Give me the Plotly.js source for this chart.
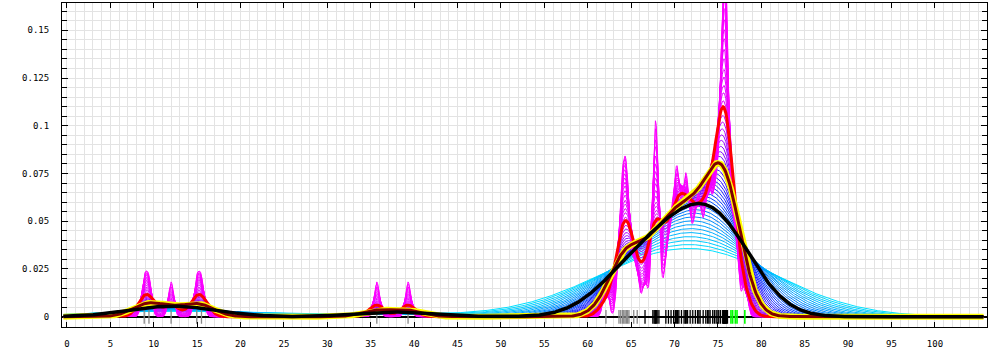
<!DOCTYPE html>
<html><head><meta charset="utf-8">
<script src="https://cdn.plot.ly/plotly-3.0.1.min.js"></script>
<style>html,body{margin:0;padding:0;background:#fff}#chart{width:1000px;height:350px}</style>
</head><body><div id="chart"></div>
<script>
// ---- data ----
const rugGray = [8.9, 9.45, 12.0, 14.95, 15.5, 35.7, 39.3,
  62.1, 63.6, 63.8, 64.0, 64.15, 64.3, 64.45, 64.6, 64.75, 65.3, 65.7];
const rugBlack = [66.6, 67.5, 67.65, 67.75, 67.8, 67.9, 68.0, 68.2,
  69.0, 69.3, 69.6, 69.9, 70.1, 70.25, 70.35, 70.5, 70.8, 71.1, 71.25, 71.35, 71.5,
  71.8, 72.1, 72.4, 72.65, 72.8, 72.95, 73.3, 73.6, 73.8, 73.95, 74.1, 74.4,
  74.6, 74.8, 75.0, 75.1, 75.3,
  75.55, 75.6, 75.65, 75.7, 75.7, 75.75, 75.8, 75.85, 75.9, 75.95, 76.0, 76.1];
const rugGreen = [76.5, 76.7, 77.0, 77.2, 78.1];

// bandwidths of the family of density curves (magenta -> cyan)
const bandwidths = [0.30, 0.32, 0.35, 0.37, 0.40, 0.43, 0.46, 0.49, 0.52, 0.56,
  0.60, 0.65, 0.69, 0.74, 0.79, 0.85, 0.91, 0.98, 1.05, 1.13,
  1.21, 1.29, 1.39, 1.49, 1.59, 1.71, 1.83, 1.96, 2.10, 2.26,
  2.42, 2.59, 2.78, 2.98, 3.20, 3.43, 3.67, 3.94, 4.22, 4.53,
  4.85, 5.20, 5.58, 5.98, 6.41, 6.87, 7.37, 7.90, 8.47, 9.08];
const bwRed = 0.9;
const bwMaroon = 1.75;
const bwBlack = 4.0;

const xTickVals = [0,5,10,15,20,25,30,35,40,45,50,55,60,65,70,75,80,85,90,95,100];
const xTickText = ['0','5','10','15','20','25','30','35','40','45','50','55','60','65','70','75','80','85','90','95','100'];
const yTickVals = [0, 0.025, 0.05, 0.075, 0.1, 0.125, 0.15];
const yTickText = ['0','0.025','0.05','0.075','0.1','0.125','0.15'];

// ---- evaluation grid & styles ----
const X_FROM = -0.4, X_TO = 105.6, X_STEP = 0.1;
const RUG_LO = -0.0037, RUG_HI = 0.0035;
const colorStops = [
  [0.00, [255, 0, 255]],
  [0.30, [225, 0, 255]],
  [0.45, [140, 0, 255]],
  [0.60, [40, 20, 255]],
  [0.72, [0, 70, 255]],
  [0.85, [0, 150, 255]],
  [1.00, [0, 225, 255]]
];

const samples = rugGray.concat(rugBlack, rugGreen);
const gridX = [];
for (let i = 0; X_FROM + i * X_STEP <= X_TO + 1e-9; i++) gridX.push(+(X_FROM + i * X_STEP).toFixed(3));

function kde(h) {
  const n = samples.length, c = 1 / (n * h * Math.sqrt(2 * Math.PI));
  return gridX.map(x => {
    let s = 0;
    for (const p of samples) { const d = (x - p) / h; s += Math.exp(-0.5 * d * d); }
    return s * c;
  });
}
function colorAt(f) {
  for (let i = 1; i < colorStops.length; i++) {
    if (f <= colorStops[i][0]) {
      const [f0, c0] = colorStops[i - 1], [f1, c1] = colorStops[i];
      const t = (f - f0) / (f1 - f0);
      const c = c0.map((v, k) => Math.round(v + (c1[k] - v) * t));
      return `rgb(${c[0]},${c[1]},${c[2]})`;
    }
  }
  return 'rgb(0,225,255)';
}

const traces = [];
const lmin = Math.log(bandwidths[0]), lmax = Math.log(bandwidths[bandwidths.length - 1]);
for (let i = bandwidths.length - 1; i >= 0; i--) {
  const h = bandwidths[i];
  const f = (Math.log(h) - lmin) / (lmax - lmin);
  traces.push({x: gridX, y: kde(h), type: 'scatter', mode: 'lines',
    line: {color: colorAt(f), width: 1}, hoverinfo: 'skip', showlegend: false});
}
function rugTrace(pts, color, w) {
  const x = [], y = [];
  pts.forEach(p => { x.push(p, p, null); y.push(RUG_LO, RUG_HI, null); });
  return {x, y, type: 'scatter', mode: 'lines', line: {color, width: w}, hoverinfo: 'skip', showlegend: false};
}
traces.push(rugTrace(rugGray, '#888888', 1.3));
traces.push(rugTrace(rugBlack, '#000000', 1.3));
traces.push(rugTrace(rugGreen, '#00ff00', 1.6));
traces.push({x: gridX, y: kde(bwRed), type: 'scatter', mode: 'lines', line: {color: '#ff0000', width: 3}, hoverinfo: 'skip', showlegend: false});
const yM = kde(bwMaroon);
traces.push({x: gridX, y: yM, type: 'scatter', mode: 'lines', line: {color: '#ffff00', width: 6}, hoverinfo: 'skip', showlegend: false});
traces.push({x: gridX, y: yM, type: 'scatter', mode: 'lines', line: {color: '#800000', width: 3}, hoverinfo: 'skip', showlegend: false});
traces.push({x: gridX, y: kde(bwBlack), type: 'scatter', mode: 'lines', line: {color: '#000000', width: 3.5}, hoverinfo: 'skip', showlegend: false});

const tickFont = {family: 'DejaVu Sans Mono, monospace', size: 9, color: '#000'};
const layout = {
  width: 1000, height: 350,
  margin: {l: 62, r: 13, t: 3, b: 23, pad: 0},
  paper_bgcolor: '#fff', plot_bgcolor: '#fff',
  showlegend: false,
  xaxis: {
    range: [-0.57, 106.0], tickmode: 'array', tickvals: xTickVals, ticktext: xTickText,
    ticks: 'inside', ticklen: 5, tickcolor: '#000', tickwidth: 1,
    showline: true, linecolor: '#000', linewidth: 1, mirror: 'ticks',
    showgrid: true, gridcolor: '#e3e3e3', gridwidth: 1, zeroline: false,
    minor: {tickmode: 'linear', tick0: 0, dtick: 1, showgrid: true, gridcolor: '#e3e3e3', gridwidth: 1, ticks: ''},
    tickfont: tickFont, ticklabelstandoff: 8
  },
  yaxis: {
    range: [-0.0054, 0.1643], tickmode: 'array', tickvals: yTickVals, ticktext: yTickText,
    ticks: 'inside', ticklen: 6, tickcolor: '#000', tickwidth: 1,
    showline: true, linecolor: '#000', linewidth: 1, mirror: 'ticks',
    showgrid: true, gridcolor: '#e3e3e3', gridwidth: 1,
    zeroline: true, zerolinecolor: '#000', zerolinewidth: 2,
    minor: {tickmode: 'linear', tick0: 0, dtick: 0.005, showgrid: true, gridcolor: '#e3e3e3', gridwidth: 1, ticks: 'inside', ticklen: 5, tickcolor: '#000'},
    tickfont: tickFont, ticklabelstandoff: 10
  }
};
Plotly.newPlot('chart', traces, layout, {staticPlot: true, displayModeBar: false});
</script>
</body></html>
